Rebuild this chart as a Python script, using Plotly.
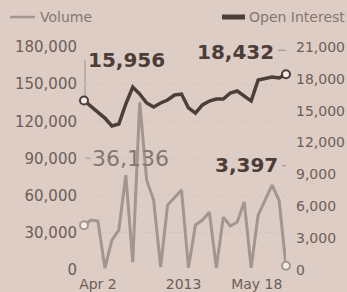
import plotly.graph_objects as go

# ---- data ----
idx = list(range(30))
volume = [36136, 40300, 39500, 1500, 24200, 32200, 76600, 6400, 135400, 72500,
          56400, 2400, 52400, 58800, 64500, 1800, 36300, 40300, 46700, 1800,
          42700, 35500, 38700, 54800, 1800, 44300, 56400, 68500, 56400, 3397]
open_interest = [15956, 15440, 14880, 14310, 13560, 13750, 15630, 17230, 16570, 15730,
                 15350, 15730, 16010, 16480, 16570, 15260, 14780, 15540, 15910, 16100,
                 16100, 16670, 16860, 16390, 15910, 17890, 17990, 18170, 18080, 18432]
x_tick_pos = [2.0, 14.3, 24.8]
x_tick_text = ["Apr 2", "2013", "May 18"]
left_ticks = [0, 30000, 60000, 90000, 120000, 150000, 180000]
right_ticks = [0, 3000, 6000, 9000, 12000, 15000, 18000, 21000]
series_names = ["Volume", "Open Interest"]

BG = "#ddcdc5"
TXT = "#6e5e59"
DARK = "#4d3d39"
VOL_C = "#a4958f"
OI_C = "#4e3e3a"
LEAD = "#9c8d88"
LEG_TXT = "#857670"
FONT = "DejaVu Sans"

fig = go.Figure()

fig.add_trace(go.Scatter(x=idx, y=volume, mode="lines", name=series_names[0],
                         line=dict(color=VOL_C, width=3), yaxis="y", showlegend=False))
fig.add_trace(go.Scatter(x=[idx[0], idx[-1]], y=[volume[0], volume[-1]], mode="markers",
                         marker=dict(size=8, color="#f2ebe7", line=dict(color=VOL_C, width=2)),
                         showlegend=False, yaxis="y", cliponaxis=False))
fig.add_trace(go.Scatter(x=idx, y=open_interest, mode="lines", name=series_names[1],
                         line=dict(color=OI_C, width=3.5), yaxis="y2", showlegend=False))
fig.add_trace(go.Scatter(x=[idx[0], idx[-1]], y=[open_interest[0], open_interest[-1]], mode="markers",
                         marker=dict(size=8, color="#f2ebe7", line=dict(color=OI_C, width=2)),
                         showlegend=False, yaxis="y2", cliponaxis=False))

annotations = [
    dict(x=idx[0], y=open_interest[0], xref="x", yref="y2", text=f"{open_interest[0]:,}",
         xanchor="left", yanchor="middle", xshift=2, yshift=41, showarrow=False,
         font=dict(family=FONT, size=20, color=DARK, weight="bold")),
    dict(x=idx[-1], y=open_interest[-1], xref="x", yref="y2", text=f"{open_interest[-1]:,}",
         xanchor="right", yanchor="middle", xshift=-10, yshift=22, showarrow=False,
         font=dict(family=FONT, size=20, color=DARK, weight="bold")),
    dict(x=idx[0], y=volume[0], xref="x", yref="y", text=f"{volume[0]:,}",
         xanchor="left", yanchor="middle", xshift=6, yshift=67, showarrow=False,
         font=dict(family=FONT, size=22, color="#857670")),
    dict(x=idx[-1], y=volume[-1], xref="x", yref="y", text=f"{volume[-1]:,}",
         xanchor="right", yanchor="middle", xshift=-6, yshift=101, showarrow=False,
         font=dict(family=FONT, size=20, color=DARK, weight="bold")),
    # legend texts
    dict(x=-0.228, y=1.1345, xref="paper", yref="paper", text=series_names[0],
         xanchor="left", yanchor="middle", showarrow=False,
         font=dict(family=FONT, size=14, color=LEG_TXT)),
    dict(x=0.807, y=1.1345, xref="paper", yref="paper", text=series_names[1],
         xanchor="left", yanchor="middle", showarrow=False,
         font=dict(family=FONT, size=14, color=LEG_TXT)),
]

def leader(xa, ya, yref, pts):
    path = "M " + " L ".join(f"{px},{py}" for px, py in pts)
    return dict(type="path", xref="x", yref=yref, xsizemode="pixel", ysizemode="pixel",
                xanchor=xa, yanchor=ya, path=path, line=dict(color=LEAD, width=1), layer="below")

shapes = [
    leader(idx[0], open_interest[0], "y2", [(1, 4), (1, 40)]),
    leader(idx[0], volume[0], "y", [(-1, 4), (-1, 67), (6, 67)]),
    leader(idx[-1], open_interest[-1], "y2", [(1, 4), (1, 24), (-8, 24)]),
    leader(idx[-1], volume[-1], "y", [(1, 4), (1, 100), (-4, 100)]),
    # legend keys
    dict(type="line", xref="paper", yref="paper", x0=-0.366, x1=-0.243, y0=1.1345, y1=1.1345,
         line=dict(color=VOL_C, width=2.5)),
    dict(type="line", xref="paper", yref="paper", x0=0.683, x1=0.797, y0=1.1345, y1=1.1345,
         line=dict(color=OI_C, width=5)),
]

fig.update_layout(
    width=347, height=292,
    margin=dict(l=84, r=61, t=47, b=22),
    paper_bgcolor=BG, plot_bgcolor=BG,
    font=dict(family=FONT, size=15, color=TXT),
    showlegend=False,
    xaxis=dict(range=[0, 29], tickvals=x_tick_pos, ticktext=x_tick_text, showgrid=False,
               zeroline=False, showline=False, ticks="", tickfont=dict(size=14, color=TXT),
               ticklabelstandoff=4, automargin=False),
    yaxis=dict(range=[0, 180000], tickvals=left_ticks, tickformat=",", showgrid=True,
               gridcolor="#d5c4bc", griddash="dot", gridwidth=1, zeroline=False, ticks="",
               tickfont=dict(size=15, color=TXT), ticklabelstandoff=6, automargin=False),
    yaxis2=dict(range=[0, 21000], tickvals=right_ticks, tickformat=",", overlaying="y",
                side="right", showgrid=False, zeroline=False, ticks="",
                tickfont=dict(size=14, color=TXT), ticklabelstandoff=9, automargin=False),
    annotations=annotations,
    shapes=shapes,
)

fig.write_html("out.html", config={"displayModeBar": False},
               post_script="document.body.style.margin='0';document.body.style.background='%s';" % BG)
